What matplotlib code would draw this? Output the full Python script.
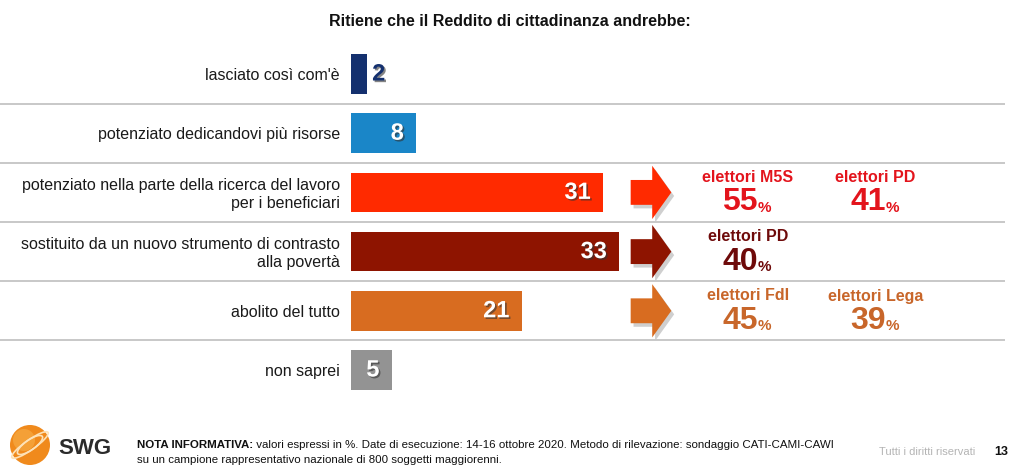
import matplotlib.pyplot as plt
import matplotlib.patheffects as pe
from matplotlib.patches import FancyArrow, Circle, Ellipse

plt.rcParams['font.family'] = ['Liberation Sans', 'DejaVu Sans']

title = "Ritiene che il Reddito di cittadinanza andrebbe:"
categories = [
    "lasciato così com'è",
    "potenziato dedicandovi più risorse",
    "potenziato nella parte della ricerca del lavoro\nper i beneficiari",
    "sostituito da un nuovo strumento di contrasto\nalla povertà",
    "abolito del tutto",
    "non saprei",
]
values = [2, 8, 31, 33, 21, 5]
bar_colors = ["#14306e", "#1a86c8", "#ff2a00", "#8e1400", "#d86c20", "#939393"]

# callouts beside some bars
callout_row = [2, 2, 3, 4, 4]
callout_col = [0, 1, 0, 0, 1]
callout_group = ["elettori M5S", "elettori PD", "elettori PD", "elettori FdI", "elettori Lega"]
callout_value = [55, 41, 40, 45, 39]
callout_text_colors = {2: "#e3141c", 3: "#6e0a0a", 4: "#c8662a"}

note_bold = "NOTA INFORMATIVA:"
note_line1 = (" valori espressi in %. Date di esecuzione: 14-16 ottobre 2020. "
              "Metodo di rilevazione: sondaggio CATI-CAMI-CAWI")
note_line2 = "su un campione rappresentativo nazionale di 800 soggetti maggiorenni."
rights = "Tutti i diritti riservati"
page = "13"

W, H = 1020, 472
PX = 8.13  # pixels per percentage point
fig = plt.figure(figsize=(W / 100, H / 100), dpi=100)

# overlay in pixel coords for page furniture
bg = fig.add_axes([0, 0, 1, 1])
bg.set_xlim(0, W)
bg.set_ylim(H, 0)
bg.axis('off')

x0 = 351
top, bottom = 44.4, 399.6
ax = fig.add_axes([x0 / W, (H - bottom) / H, (W - x0) / W, (bottom - top) / H])
ax.set_xlim(0, (W - x0) / PX)
ax.set_ylim(len(categories) - 0.5, -0.5)
ax.axis('off')

rows = list(range(len(categories)))
ax.barh(rows, values, height=0.67, color=bar_colors)

shadow = [pe.SimplePatchShadow(offset=(1.2, -1.2), shadow_rgbFace='#333333', alpha=0.6), pe.Normal()]
for r, v in zip(rows, values):
    if v < 4:
        ax.text(v + 0.6, r, str(v), ha='left', va='center', fontsize=17,
                fontweight='bold', color=bar_colors[r], path_effects=shadow)
    else:
        ax.text(v - 1.5, r, str(v), ha='right', va='center', fontsize=17,
                fontweight='bold', color='white', path_effects=shadow)
    ax.text(-1.35, r + 0.03, categories[r], ha='right', va='center', fontsize=11.5,
            color='#1a1a1a', linespacing=1.25, clip_on=False)

ax.hlines([r + 0.5 for r in rows[:-1]], -x0 / PX, (1005 - x0) / PX,
          colors='#c8c8c8', linewidth=1.4, clip_on=False)

# arrows
arrow_x, arrow_len = 34.4, 5.0
for r in sorted(set(callout_row)):
    for dx, dy, col, a in [(0.35, 0.06, '#777777', 0.35), (0, 0, bar_colors[r], 1)]:
        ax.add_patch(FancyArrow(arrow_x + dx, r + dy, arrow_len, 0, width=0.42,
                                head_width=0.9, head_length=2.35,
                                length_includes_head=True, color=col, alpha=a, lw=0))

col_x = [48.8, 64.5]
for r, c, g, v in zip(callout_row, callout_col, callout_group, callout_value):
    tc = callout_text_colors[r]
    ax.text(col_x[c], r - 0.25, g, ha='center', va='center', fontsize=11.5,
            fontweight='bold', color=tc)
    ax.text(col_x[c] + 1.25, r + 0.17, str(v), ha='right', va='center',
            fontsize=23, fontweight='bold', color=tc)
    ax.text(col_x[c] + 1.25, r + 0.26, "%", ha='left', va='center',
            fontsize=11, fontweight='bold', color=tc)

bg.text(W / 2, 22, title, ha='center', va='center', fontsize=11.5,
        fontweight='bold', color='#111111')

# SWG logo
bg.add_patch(Circle((30, 445), 20, color='#f08a1c', lw=0))
bg.add_patch(Circle((24, 440), 11, color='#f7b04a', lw=0, alpha=0.6))
for ang, w in [(-35, 44), (-35, 30)]:
    bg.add_patch(Ellipse((30, 445), w, 10, angle=ang, fill=False,
                         edgecolor='#fde2b8', lw=1.2))
bg.text(58, 448, "SWG", ha='left', va='center', fontsize=16,
        fontweight='bold', color='#2b2b2b')

t = bg.text(137, 445, note_bold, ha='left', va='center', fontsize=8.25,
            fontweight='bold', color='#111111')
bg.annotate(note_line1, xycoords=t, xy=(1, 0.5), ha='left', va='center',
            fontsize=8.25, color='#111111')
bg.text(137, 460, note_line2, ha='left', va='center', fontsize=8.25, color='#111111')
bg.text(975, 452, rights, ha='right', va='center', fontsize=8, color='#b4b4b4')
bg.text(1008, 452, page, ha='right', va='center', fontsize=9,
        fontweight='bold', color='#111111')

fig.savefig("out.png", dpi=100)
